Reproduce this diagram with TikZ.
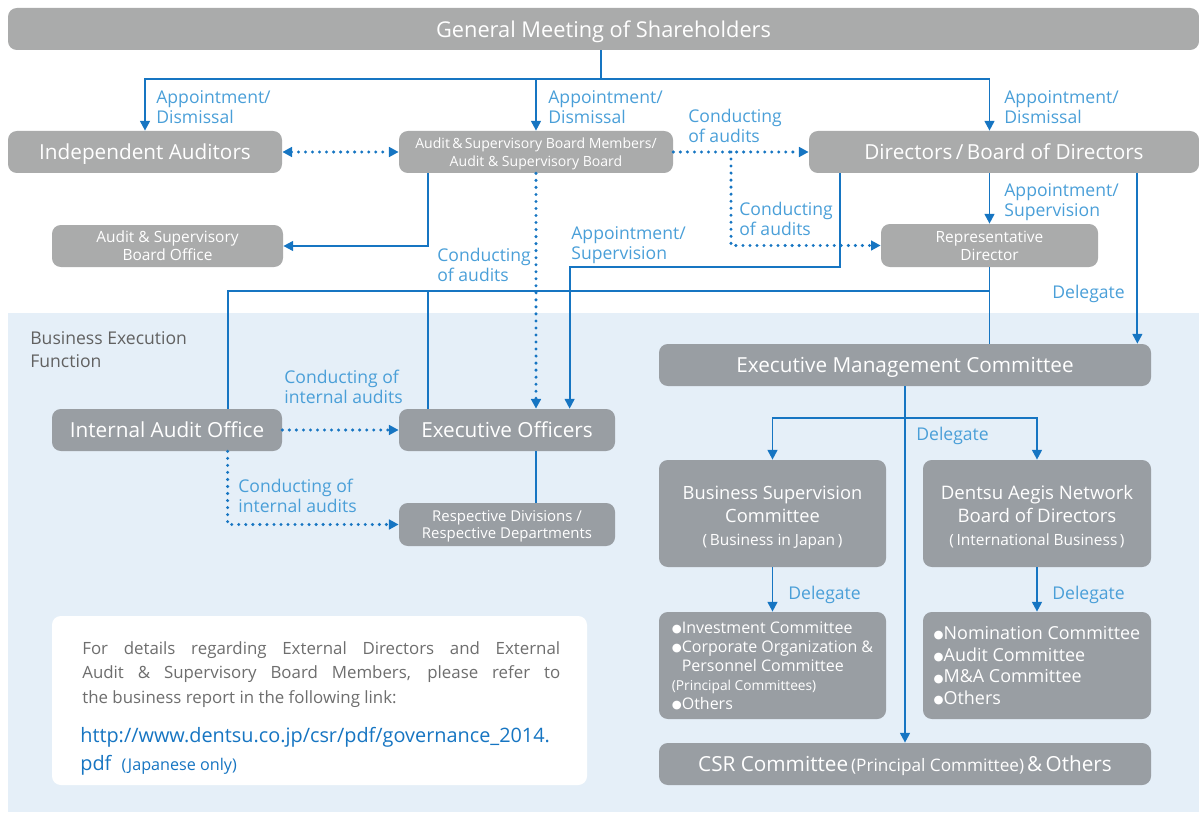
\documentclass[tikz,border=0pt]{standalone}
\usepackage{fontspec}
\setmainfont{Open Sans}
\newfontfamily\symfont{DejaVu Sans}
\usetikzlibrary{arrows.meta}
\definecolor{topgray}{HTML}{AAABAB}
\definecolor{execgray}{HTML}{999EA3}
\definecolor{execbg}{HTML}{E5EFF8}
\definecolor{linkblue}{HTML}{1675C2}
\definecolor{lblblue}{HTML}{4A9FD8}
\definecolor{notegray}{HTML}{6E6E6E}
\tikzset{
    every node/.style={
        inner sep=0pt
    },
    conn/.style={
        draw=linkblue,
        line width=1.1pt
    },
    dots/.style={
        draw=linkblue,
        line width=1.9pt,
        line cap=round,
        dash pattern=on 0pt off 4pt
    },
    >={Triangle[length=5.5pt,width=5.5pt]},
    wh/.style 2 args={minimum width=#1*0.02cm, minimum height=#2*0.02cm}
}
\tikzstyle{topbox}=[fill=topgray, rounded corners=5pt, text=white, align=center, text depth=0pt]
\tikzstyle{execbox}=[fill=execgray, rounded corners=5pt, text=white, align=center, text depth=0pt]
\tikzstyle{lbl}=[anchor=north west, align=left, text=lblblue, font=\fontsize{10}{11.3}\selectfont]
\newcommand{\bigfont}{\fontsize{11.8}{13}\selectfont}
\newcommand{\midfont}{\fontsize{8.8}{10.2}\selectfont}
\newcommand{\itm}{{\symfont\fontsize{6.5}{6}\selectfont\raisebox{0.5pt}{●}}}

\begin{document}
\begin{tikzpicture}[x=0.02cm, y=-0.02cm]
\useasboundingbox (0,0) rectangle (1199,814);
\fill[execbg] (8,313) rectangle (1199,812);

\node[topbox, wh={1191}{42}, font=\fontsize{12.4}{14}\selectfont] (GM) at (603.5,29) {General Meeting of Shareholders};
\node[topbox, wh={274}{42}, font=\bigfont] (IA) at (145,152) {Independent Auditors};
\node[topbox, wh={274}{42}, font=\fontsize{8}{10.2}\selectfont] (ASB) at (536,152) {Audit\,\&\,Supervisory Board Members/\\Audit \& Supervisory Board};
\node[topbox, wh={390}{42}, font=\bigfont] (DIR) at (1004,152) {Directors\,/\,Board of Directors};
\node[topbox, wh={231}{42}, font=\midfont] (ASBO) at (167.5,246) {Audit \& Supervisory\\Board Office};
\node[topbox, wh={217}{43}, font=\midfont] (REP) at (989.5,245.5) {Representative\\Director};

\node[anchor=north west, align=left, text=black!62, font=\fontsize{10}{13}\selectfont] (BEF) at (30,331) {Business Execution\\Function};

\node[execbox, wh={230}{42}, font=\bigfont] (IAO) at (167,430) {Internal Audit Office};
\node[execbox, wh={216}{42}, font=\bigfont] (EO) at (507,430) {Executive Officers};
\node[execbox, wh={216}{43}, font=\fontsize{8.5}{10.2}\selectfont] (RD) at (507,524.5) {Respective Divisions /\\Respective Departments};
\node[execbox, wh={492}{42}, font=\bigfont] (EMC) at (905,365) {Executive Management Committee};
\node[execbox, wh={227}{107}, font=\fontsize{10.4}{13}\selectfont] (BSC) at (772.5,513.5) {\rule{0pt}{10.4pt}Business Supervision\\Committee\\{\midfont(\,Business in Japan\,)}};
\node[execbox, wh={228}{107}, font=\fontsize{10.6}{13}\selectfont] (DAN) at (1037,513.5) {\rule{0pt}{10.4pt}Dentsu Aegis Network\\Board of Directors\\{\midfont(\,International Business\,)}};
\node[execbox, wh={227}{107}, align=left, font=\fontsize{9.1}{10.8}\selectfont] (LL) at (772.5,665.5) {\itm Investment Committee\\\itm Corporate Organization \&\\\hphantom{\itm}Personnel Committee\\{\fontsize{7.8}{10.8}\selectfont(Principal Committees)}\\\itm Others};
\node[execbox, wh={228}{107}, align=left, font=\fontsize{10.2}{12.3}\selectfont] (RL) at (1037,665.5) {\itm Nomination Committee\\\itm Audit Committee\\\itm M\&A Committee\\\itm Others};
\node[execbox, wh={492}{42}, font=\bigfont] (CSR) at (905,764) {CSR Committee{\fontsize{9.8}{11}\selectfont\,(Principal Committee)\,}\&\,Others};

\node[fill=white, rounded corners=5pt, wh={535}{169}] (NOTE) at (319.5,700.5) {};
\node[anchor=north west, text width=9.56cm, align=justify, text=notegray, font=\fontsize{9.6}{13.9}\selectfont] (NTXT) at (82,641) {For details regarding External Directors and External\linebreak Audit \& Supervisory Board Members, please refer to\linebreak the business report in the following link:};
\node[anchor=north west, align=left, text=linkblue, font=\fontsize{11.3}{15.9}\selectfont] (LINK) at (80,727) {http://www.dentsu.co.jp/csr/pdf/governance\_2014.\\pdf\ \ {\fontsize{9.2}{10}\selectfont(Japanese only)}};

\node[lbl] (l1) at (156,90) {Appointment/\\Dismissal};
\node[lbl] (l2) at (548,90) {Appointment/\\Dismissal};
\node[lbl] (l3) at (1004,90) {Appointment/\\Dismissal};
\node[lbl] (l4) at (688,109) {Conducting\\of audits};
\node[lbl] (l5) at (1004,183) {Appointment/\\Supervision};
\node[lbl] (l6) at (739,202) {Conducting\\of audits};
\node[lbl] (l7) at (571,226) {Appointment/\\Supervision};
\node[lbl] (l8) at (437,248) {Conducting\\of audits};
\node[lbl] (l9) at (1052,285) {Delegate};
\node[lbl] (l10) at (284,370) {Conducting of\\internal audits};
\node[lbl] (l11) at (238,479) {Conducting of\\internal audits};
\node[lbl] (l12) at (916,427) {Delegate};
\node[lbl] (l13) at (788,586) {Delegate};
\node[lbl] (l14) at (1052,586) {Delegate};

\coordinate (gmj) at (601,79);
\draw[conn] (GM.south -| gmj) -- (gmj);
\draw[conn,->] (gmj) -| (IA.north);
\draw[conn,->] (gmj) -| (ASB.north);
\draw[conn,->] (gmj) -| (DIR.north -| REP.north);

\draw[dots,<->] (IA) -- (ASB);
\draw[dots,->] (ASB) -- (DIR);
\coordinate (cj) at (731,152);
\draw[dots,->] (cj) |- (REP);
\draw[dots,->] (ASB.south) -- (ASB.south |- EO.north);

\coordinate (asbx) at ([xshift=0.58cm]ASB.south west);
\draw[conn,->] (asbx) |- (ASBO);
\coordinate (dirx) at ([xshift=0.62cm]DIR.south west);
\draw[conn,->] (dirx) -- ++(0,94) -| ([xshift=3.42cm]EO.north west);
\draw[conn,->] (DIR.south -| REP.north) -- (REP.north);
\coordinate (dlg) at ([xshift=-1.24cm]DIR.south east);
\draw[conn,->] (dlg) -- (dlg |- EMC.north);

\draw[conn] (REP.south) -- (REP.south |- EMC.north);
\coordinate (rj) at ([yshift=-0.48cm]REP.south);
\coordinate (iaox) at ([xshift=3.52cm]IAO.north west);
\draw[conn] (rj) -| (iaox);
\draw[conn] (rj -| asbx) -- (asbx |- EO.north);
\draw[dots,->] (IAO) -- (EO);
\draw[dots,->] (iaox |- IAO.south) |- (RD);
\draw[conn] (EO.south -| ASB.south) -- (RD.north -| ASB.south);

\coordinate (ej) at ([yshift=-0.64cm]EMC.south);
\draw[conn,->] (EMC.south) -- (CSR.north);
\draw[conn,->] (ej) -| (BSC.north);
\draw[conn,->] (ej) -| (DAN.north);
\draw[conn,->] (BSC) -- (LL);
\draw[conn,->] (DAN) -- (RL);
\end{tikzpicture}
\end{document}
